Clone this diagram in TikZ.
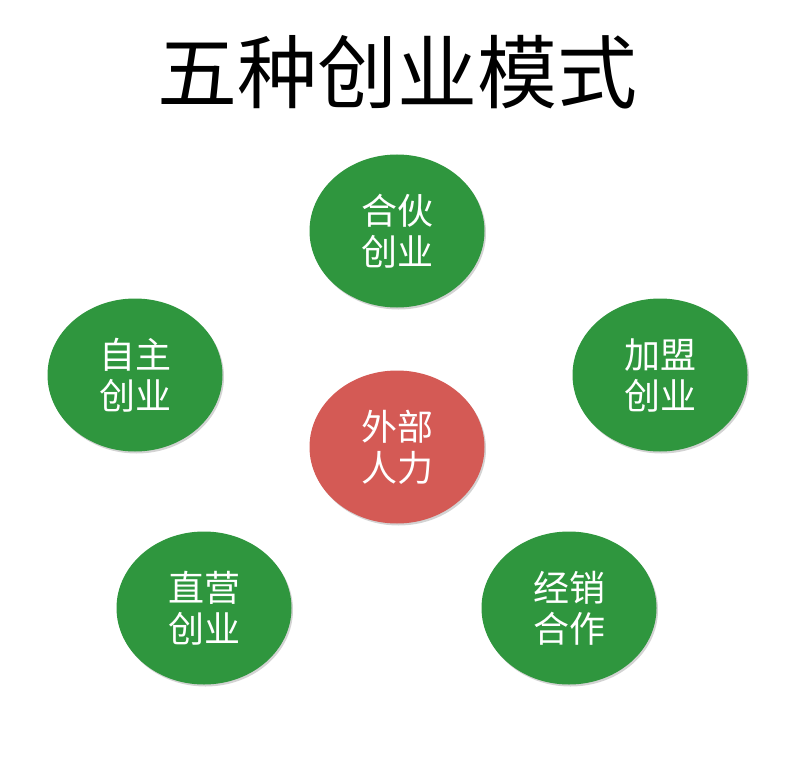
\documentclass[tikz,border=0pt]{standalone}
\usepackage{fontspec}
\newfontfamily\cjk{Noto Sans CJK SC}
\usetikzlibrary{shapes.geometric,shadows}
\definecolor{feltgreen}{RGB}{47,150,62}
\definecolor{feltred}{RGB}{212,90,85}
\begin{document}
\begin{tikzpicture}[x=1pt,y=-1pt,
  main node/.style={ellipse,fill=feltgreen,text=white,minimum width=175pt,minimum height=153pt,inner sep=0pt,
    align=center,font=\cjk\fontsize{36}{41}\selectfont,
    drop shadow={shadow xshift=1.5pt,shadow yshift=-2pt,opacity=0.35}},
  core node/.style={main node,fill=feltred}]
  \useasboundingbox (0,0) rectangle (800,770);

  \node[font=\cjk\fontsize{80}{80}\selectfont] (title) at (397,72){五种创业模式};

  \node[main node] (0) at (397,231){合伙\\创业};
  \node[main node] (1) at (135,375){自主\\创业};
  \node[main node] (2) at (660,375){加盟\\创业};
  \node[core node] (3) at (397,447){外部\\人力};
  \node[main node] (4) at (204,608){直营\\创业};
  \node[main node] (5) at (569,608){经销\\合作};
\end{tikzpicture}
\end{document}
